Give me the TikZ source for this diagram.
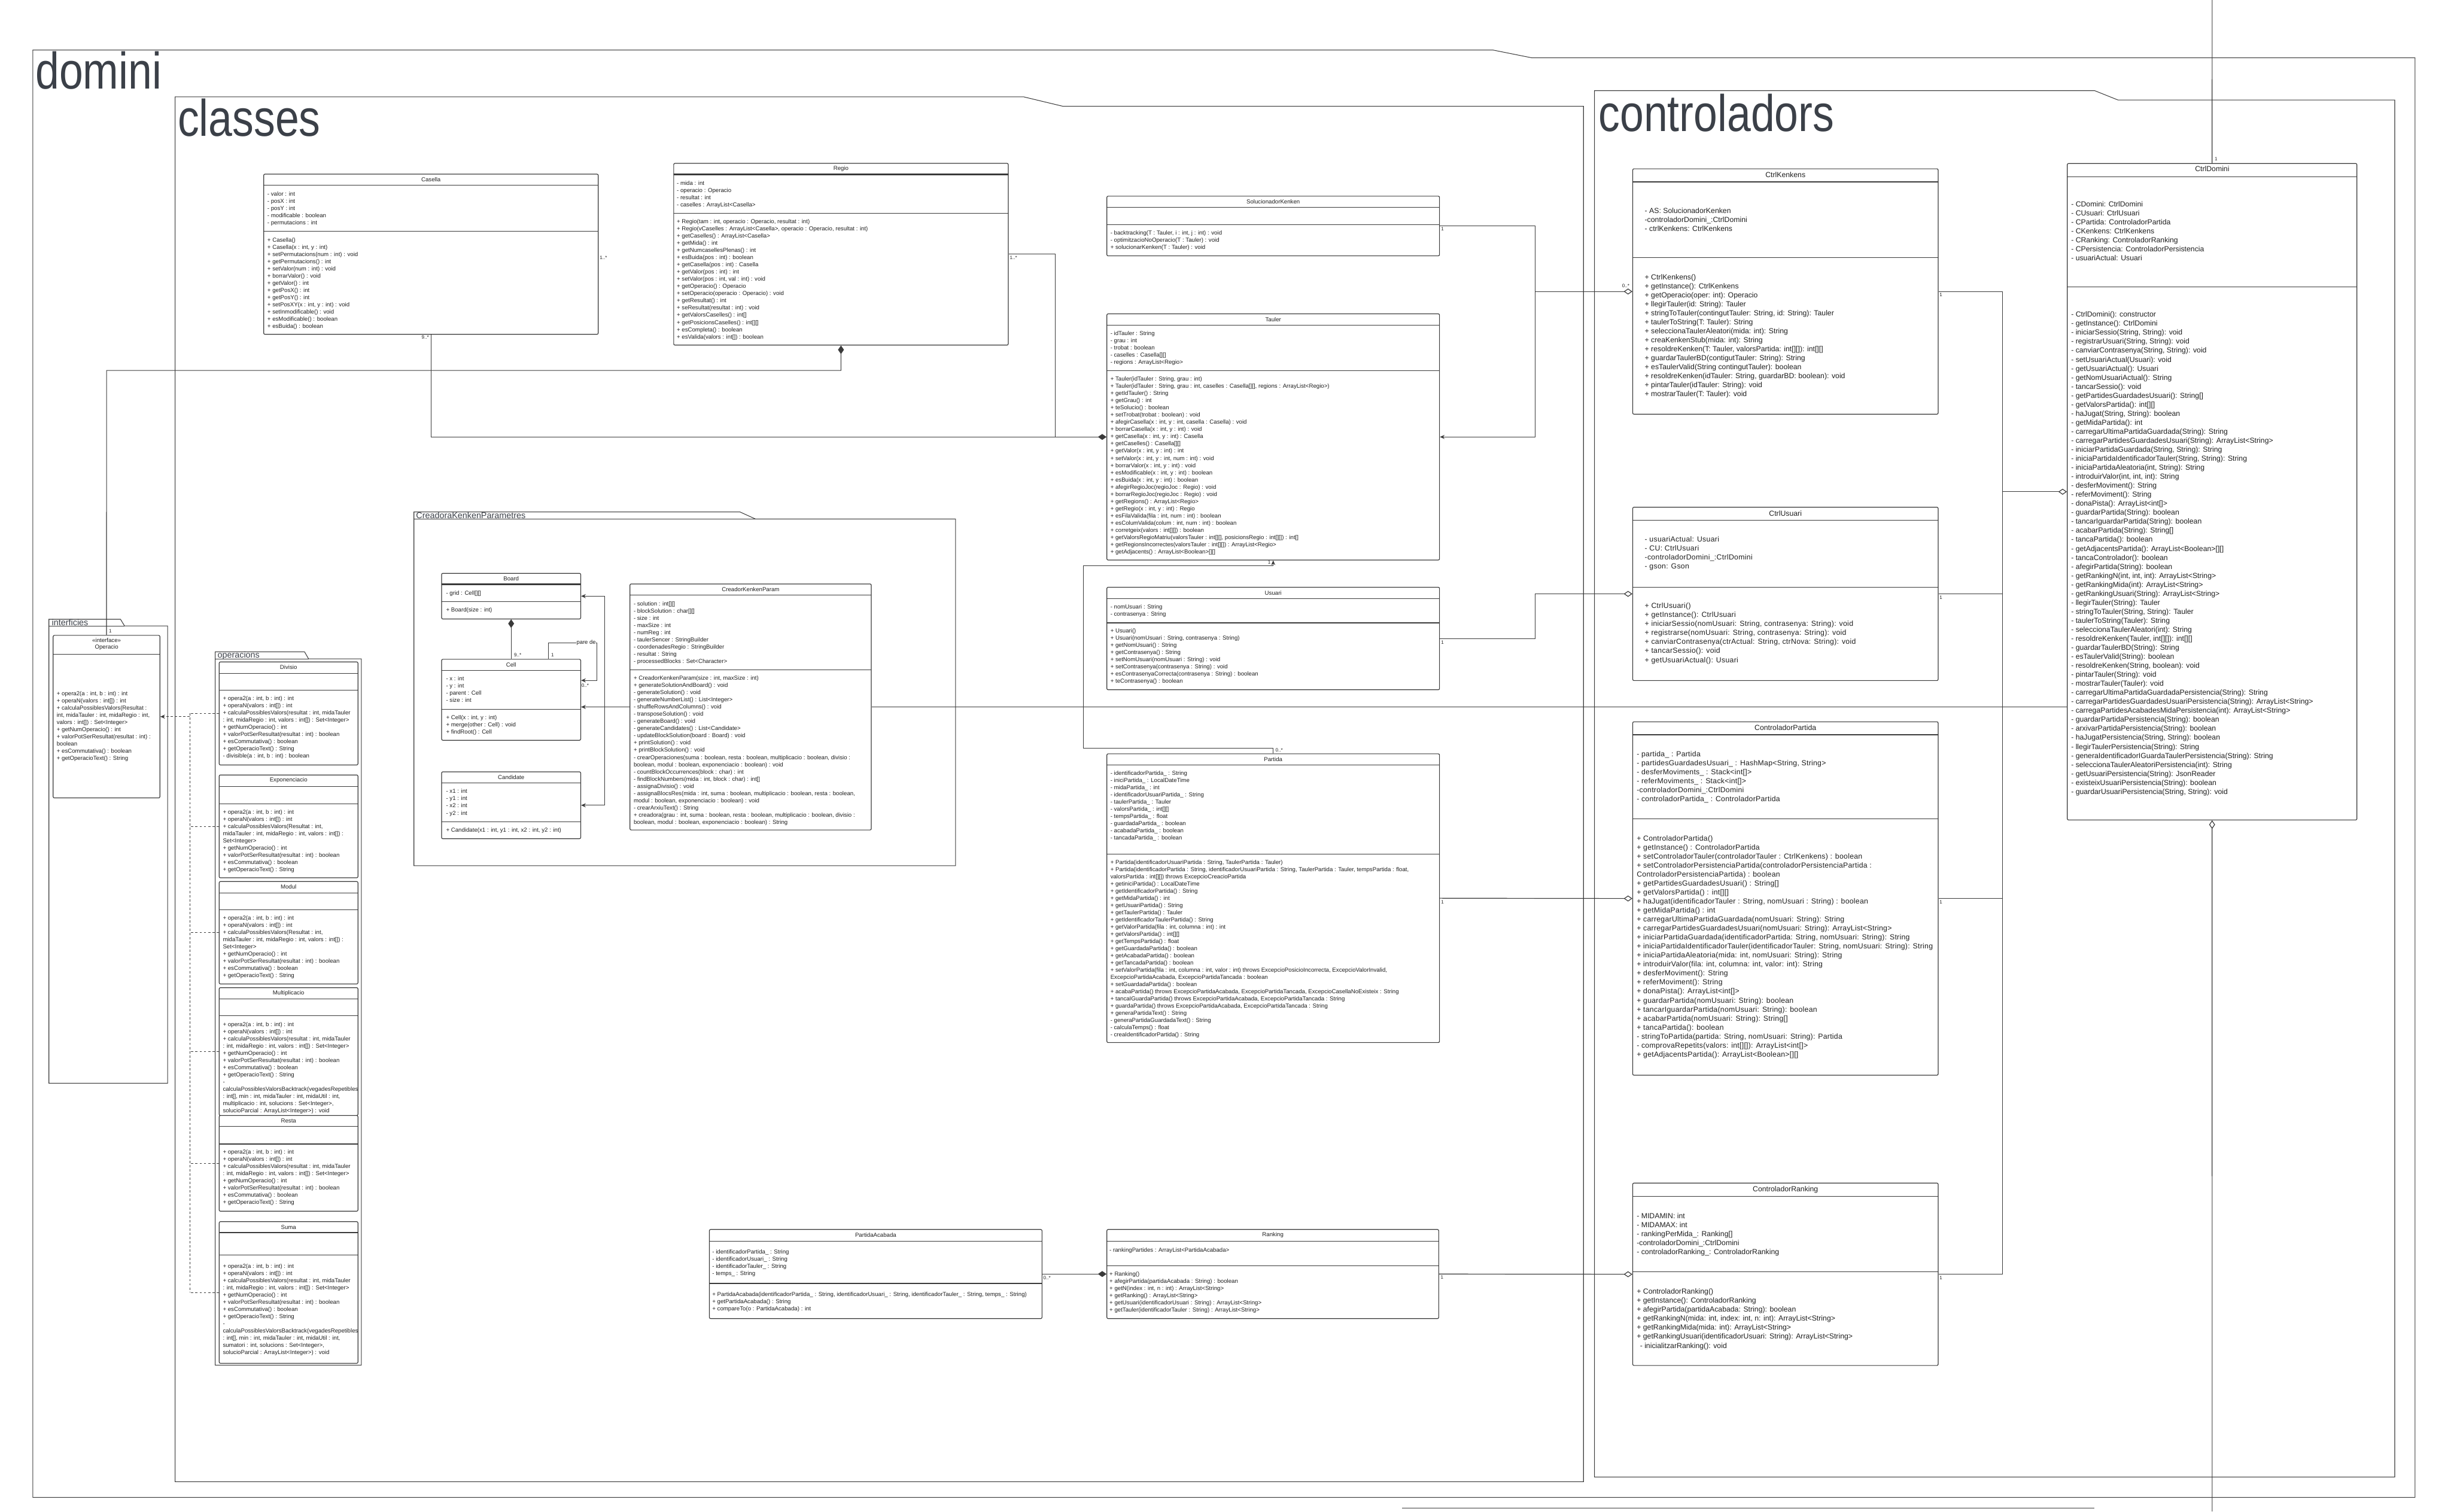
\documentclass[tikz,border=0pt]{standalone}
\usepackage{fontspec}
\setmainfont{Liberation Sans}
\newfontfamily\pkgfont[FakeStretch=0.83]{Liberation Sans}
\usetikzlibrary{arrows.meta,fit}

\definecolor{linegray}{HTML}{3A3A3A}
\definecolor{inkgray}{HTML}{1F1F1F}
\definecolor{pkggray}{HTML}{3B4048}

\tikzset{
  classbox/.style={draw=linegray, line width=0.45pt, rounded corners=0.8pt, inner sep=0pt},
  septop/.style={draw=linegray, line width=0.45pt},
  dom/.style={font=\fontsize{3.7}{4.6}\selectfont, text=inkgray, inner sep=0pt, align=left, anchor=north west},
  ctl/.style={font=\fontsize{4.7}{5.76}\selectfont, text=inkgray, inner sep=0pt, align=left, anchor=north west},
  ctlwide/.style={ctl, font=\fontsize{4.7}{5.76}\selectfont\addfontfeature{LetterSpace=#1}},
  domtitle/.style={font=\fontsize{3.7}{4.6}\selectfont, text=inkgray, inner sep=0pt},
  ctltitle/.style={font=\fontsize{4.7}{5.76}\selectfont, text=inkgray, inner sep=0pt},
  conn/.style={draw=linegray, line width=0.45pt},
  compos/.style={conn, {Diamond[length=5.5pt,width=3.8pt]}-},
  aggr/.style={conn, {Diamond[length=5.5pt,width=3.8pt,fill=white]}-},
  navig/.style={conn, -{Stealth[length=3pt,width=2.6pt]}},
  realdash/.style={conn, dash pattern=on 1.5pt off 1.2pt},
  mult/.style={font=\fontsize{3.1}{3.6}\selectfont, text=inkgray, inner sep=0.2pt},
  pkgline/.style={draw=linegray, line width=0.4pt},
  bigpkg/.style={font=\pkgfont\fontsize{33}{36}\selectfont, text=pkggray, inner sep=0pt, anchor=base west},
  smallpkg/.style={font=\fontsize{5.5}{6}\selectfont, text=pkggray, inner sep=0pt, anchor=base west},
}

% box with title and two separators: name, x1, y1, x2, title sep, member sep, y2
\newcommand\classbox[7]{%
  \node[classbox, fit={(#2,#3) (#4,#7)}] (#1) {};
  \draw[septop] (#2,#5) -- (#4,#5);
  \draw[septop] (#2,#6) -- (#4,#6);
}

\begin{document}
\begin{tikzpicture}[x=1pt,y=-1pt]
\useasboundingbox (0,0) rectangle (1568,967);

% packages
\draw[pkgline] (21,37) -- (21,32) -- (955,32) -- (980,37) -- (1545,37) -- (1545,958) -- (21,958) -- cycle;
\node[bigpkg] (lbl-domini) at (22.5,57) {domini};
\draw[pkgline] (112,68) -- (112,62) -- (655,62) -- (680,68) -- (1013,68) -- (1013,948) -- (112,948) -- cycle;
\node[bigpkg] (lbl-classes) at (113.5,87) {classes};
\draw[pkgline] (1020,64) -- (1020,58) -- (1340,58) -- (1355,64) -- (1532,64) -- (1532,945) -- (1020,945) -- cycle;
\node[bigpkg] (lbl-ctrl) at (1022.5,84) {controladors};
\draw[pkgline] (264.8,332) -- (264.8,327.5) -- (473.3,327.5) -- (483.2,332) -- (611.3,332) -- (611.3,553.9) -- (264.8,553.9) -- cycle;
\draw[pkgline] (264.8,332) -- (483.2,332);
\node[smallpkg] (lbl-creadora) at (266,331.6) {CreadoraKenkenParametres};
\draw[pkgline] (31.3,400.5) -- (31.3,396.2) -- (77.1,396.2) -- (79.7,400.5) -- (107.2,400.5) -- (107.2,693) -- (31.3,693) -- cycle;
\draw[pkgline] (31.3,400.5) -- (79.7,400.5);
\node[smallpkg] (lbl-interf) at (33,400.1) {interficies};
\draw[pkgline] (137.7,421.5) -- (137.7,417) -- (194.8,417) -- (197.4,421.5) -- (231.2,421.5) -- (231.2,873.4) -- (137.7,873.4) -- cycle;
\draw[pkgline] (137.7,421.5) -- (197.4,421.5);
\node[smallpkg] (lbl-operac) at (139,421) {operacions};
\draw[pkgline] (897,965) -- (1340,965);

% classes
\classbox{casella}{168.7}{111.4}{382.7}{118.5}{147.8}{213.9}
\node[domtitle] (casella-t) at (275.7,114.9) {Casella};
\node[dom] (casella-a) at (170.9,122.3) {- valor : int\\- posX : int\\- posY : int\\- modificable : boolean\\- permutacions : int};
\node[dom] (casella-m) at (170.9,151.8) {+ Casella()\\+ Casella(x : int, y : int)\\+ setPermutacions(num : int) : void\\+ getPermutacions() : int\\+ setValor(num : int) : void\\+ borrarValor() : void\\+ getValor() : int\\+ getPosX() : int\\+ getPosY() : int\\+ setPosXY(x : int, y : int) : void\\+ setInmodificable() : void\\+ esModificable() : boolean\\+ esBuida() : boolean};

\classbox{regio}{431}{104.5}{645}{111.7}{136.5}{220.8}
\draw[septop, line width=1.1pt] (431,111.7) -- (645,111.7);
\node[domtitle] (regio-t) at (538,108.1) {Regio};
\node[dom] (regio-a) at (432.8,115.6) {- mida : int\\- operacio : Operacio\\- resultat : int\\- caselles : ArrayList<Casella>};
\node[dom] (regio-m) at (432.8,140.2) {+ Regio(tam : int, operacio : Operacio, resultat : int)\\+ Regio(vCaselles : ArrayList<Casella>, operacio : Operacio, resultat : int)\\+ getCaselles() : ArrayList<Casella>\\+ getMida() : int\\+ getNumcasellesPlenas() : int\\+ esBuida(pos : int) : boolean\\+ getCasella(pos : int) : Casella\\+ getValor(pos : int) : int\\+ setValor(pos : int, val : int) : void\\+ getOperacio() : Operacio\\+ setOperacio(operacio : Operacio) : void\\+ getResultat() : int\\+ seResultat(resultat : int) : void\\+ getValorsCaselles() : int[]\\+ getPosicionsCaselles() : int[][]\\+ esCompleta() : boolean\\+ esValida(valors : int[]) : boolean};

\classbox{soluc}{708.1}{125.5}{920.9}{132.6}{143.8}{163.7}
\node[domtitle] (soluc-t) at (814.5,129) {SolucionadorKenken};
\node[dom] (soluc-m) at (710.2,147.5) {- backtracking(T : Tauler, i : int, j : int) : void\\- optimitzacioNoOperacio(T : Tauler) : void\\+ solucionarKenken(T : Tauler) : void};

\classbox{tauler}{708.1}{200.8}{920.9}{207.9}{237.3}{358.3}
\node[domtitle] (tauler-t) at (814.5,204.3) {Tauler};
\node[dom] (tauler-a) at (710.2,211.5) {- idTauler : String\\- grau : int\\- trobat : boolean\\- caselles : Casella[][]\\- regions : ArrayList<Regio>};
\node[dom] (tauler-m) at (710.2,240.9) {+ Tauler(idTauler : String, grau : int)\\+ Tauler(idTauler : String, grau : int, caselles : Casella[][], regions : ArrayList<Regio>)\\+ getIdTauler() : String\\+ getGrau() : int\\+ teSolucio() : boolean\\+ setTrobat(trobat : boolean) : void\\+ afegirCasella(x : int, y : int, casella : Casella) : void\\+ borrarCasella(x : int, y : int) : void\\+ getCasella(x : int, y : int) : Casella\\+ getCaselles() : Casella[][]\\+ getValor(x : int, y : int) : int\\+ setValor(x : int, y : int, num : int) : void\\+ borrarValor(x : int, y : int) : void\\+ esModificable(x : int, y : int) : boolean\\+ esBuida(x : int, y : int) : boolean\\+ afegirRegioJoc(regioJoc : Regio) : void\\+ borrarRegioJoc(regioJoc : Regio) : void\\+ getRegions() : ArrayList<Regio>\\+ getRegio(x : int, y : int) : Regio\\+ esFilaValida(fila : int, num : int) : boolean\\+ esColumValida(colum : int, num : int) : boolean\\+ corretgeix(valors : int[][]) : boolean\\+ getValorsRegioMatriu(valorsTauler : int[][], posicionsRegio : int[][]) : int[]\\+ getRegionsIncorrectes(valorsTauler : int[][]) : ArrayList<Regio>\\+ getAdjacents() : ArrayList<Boolean>[][]};

\classbox{usuari}{708.1}{375.7}{920.9}{383.1}{398.5}{441.3}
\node[domtitle] (usuari-t) at (814.5,379.4) {Usuari};
\node[dom] (usuari-a) at (710.2,386.6) {- nomUsuari : String\\- contrasenya : String};
\node[dom] (usuari-m) at (710.2,402) {+ Usuari()\\+ Usuari(nomUsuari : String, contrasenya : String)\\+ getNomUsuari() : String\\+ getContrasenya() : String\\+ setNomUsuari(nomUsuari : String) : void\\+ setContrasenya(contrasenya : String) : void\\+ esContrasenyaCorrecta(contrasenya : String) : boolean\\+ teContrasenya() : boolean};

\classbox{partida}{708.1}{482.3}{920.9}{489.4}{546.4}{667}
\node[domtitle] (partida-t) at (814.5,485.8) {Partida};
\node[dom] (partida-a) at (710.2,493.1) {- identificadorPartida\_ : String\\- iniciPartida\_ : LocalDateTime\\- midaPartida\_ : int\\- identificadorUsuariPartida\_ : String\\- taulerPartida\_ : Tauler\\- valorsPartida\_ : int[][]\\- tempsPartida\_ : float\\- guardadaPartida\_ : boolean\\- acabadaPartida\_ : boolean\\- tancadaPartida\_ : boolean};
\node[dom] (partida-m) at (710.2,549.9) {+ Partida(identificadorUsuariPartida : String, TaulerPartida : Tauler)\\+ Partida(identificadorPartida : String, identificadorUsuariPartida : String, TaulerPartida : Tauler, tempsPartida : float,\\valorsPartida : int[][]) throws ExcepcioCreacioPartida\\+ getiniciPartida() : LocalDateTime\\+ getIdentificadorPartida() : String\\+ getMidaPartida() : int\\+ getUsuariPartida() : String\\+ getTaulerPartida() : Tauler\\+ getIdentificadorTaulerPartida() : String\\+ getValorPartida(fila : int, columna : int) : int\\+ getValorsPartida() : int[][]\\+ getTempsPartida() : float\\+ getGuardadaPartida() : boolean\\+ getAcabadaPartida() : boolean\\+ getTancadaPartida() : boolean\\+ setValorPartida(fila : int, columna : int, valor : int) throws ExcepcioPosicioIncorrecta, ExcepcioValorInvalid,\\ExcepcioPartidaAcabada, ExcepcioPartidaTancada : boolean\\+ setGuardadaPartida() : boolean\\+ acabaPartida() throws ExcepcioPartidaAcabada, ExcepcioPartidaTancada, ExcepcioCasellaNoExisteix : String\\+ tancaIGuardaPartida() throws ExcepcioPartidaAcabada, ExcepcioPartidaTancada : String\\+ guardaPartida() throws ExcepcioPartidaAcabada, ExcepcioPartidaTancada : String\\+ generaPartidaText() : String\\- generaPartidaGuardadaText() : String\\- calculaTemps() : float\\- creaIdentificadorPartida() : String};

\classbox{acabada}{453.8}{786.6}{666.6}{794.1}{821.1}{843.6}
\node[domtitle] (acabada-t) at (560.2,790.3) {PartidaAcabada};
\node[dom] (acabada-a) at (455.5,799.2) {- identificadorPartida\_ : String\\- identificadorUsuari\_ : String\\- identificadorTauler\_ : String\\- temps\_ : String};
\node[dom] (acabada-m) at (455.5,826.3) {+ PartidaAcabada(identificadorPartida\_ : String, identificadorUsuari\_ : String, identificadorTauler\_ : String, temps\_ : String)\\+ getPartidaAcabada() : String\\+ compareTo(o : PartidaAcabada) : int};

\classbox{ranking}{708.1}{786.6}{920.4}{794.1}{809.7}{843.6}
\node[domtitle] (ranking-t) at (814.3,790.3) {Ranking};
\node[dom] (ranking-a) at (709.6,798.1) {- rankingPartides : ArrayList<PartidaAcabada>};
\node[dom] (ranking-m) at (709.6,813.6) {+ Ranking()\\+ afegirPartida(partidaAcabada : String) : boolean\\+ getN(index : int, n : int) : ArrayList<String>\\+ getRanking() : ArrayList<String>\\+ getUsuari(identificadorUsuari : String) : ArrayList<String>\\+ getTauler(identificadorTauler : String) : ArrayList<String>};

% CreadoraKenkenParametres
\classbox{board}{282.5}{366.8}{371.5}{373.9}{384.9}{396}
\draw[septop, line width=1.1pt] (282.5,373.9) -- (371.5,373.9);
\node[domtitle] (board-t) at (327,370.3) {Board};
\node[dom] (board-a) at (285.2,377.7) {- grid : Cell[][]};
\node[dom] (board-m) at (285.2,388.7) {+ Board(size : int)};

\classbox{cell}{282.5}{421.8}{371.5}{429}{453.7}{473.6}
\node[domtitle] (cell-t) at (327,425.4) {Cell};
\node[dom] (cell-a) at (285.2,432.6) {- x : int\\- y : int\\- parent : Cell\\- size : int};
\node[dom] (cell-m) at (285.2,457.3) {+ Cell(x : int, y : int)\\+ merge(other : Cell) : void\\+ findRoot() : Cell};

\classbox{candidate}{282.5}{493.8}{371.5}{500.8}{525.9}{536.6}
\node[domtitle] (candidate-t) at (327,497.3) {Candidate};
\node[dom] (candidate-a) at (285.2,504.7) {- x1 : int\\- y1 : int\\- x2 : int\\- y2 : int};
\node[dom] (candidate-m) at (285.2,529.5) {+ Candidate(x1 : int, y1 : int, x2 : int, y2 : int)};

\classbox{ckp}{403}{373.6}{557.4}{380.8}{428.4}{531}
\node[domtitle] (ckp-t) at (480.2,377.2) {CreadorKenkenParam};
\node[dom] (ckp-a) at (405.2,384.6) {- solution : int[][]\\- blockSolution : char[][]\\- size : int\\- maxSize : int\\- numReg : int\\- taulerSencer : StringBuilder\\- coordenadesRegio : StringBuilder\\- resultat : String\\- processedBlocks : Set<Character>};
\node[dom] (ckp-m) at (405.2,432.3) {+ CreadorKenkenParam(size : int, maxSize : int)\\+ generateSolutionAndBoard() : void\\- generateSolution() : void\\- generateNumberList() : List<Integer>\\- shuffleRowsAndColumns() : void\\- transposeSolution() : void\\- generateBoard() : void\\- generateCandidates() : List<Candidate>\\- updateBlockSolution(board : Board) : void\\+ printSolution() : void\\+ printBlockSolution() : void\\- crearOperaciones(suma : boolean, resta : boolean, multiplicacio : boolean, divisio :\\boolean, modul : boolean, exponenciacio : boolean) : void\\- countBlockOccurrences(block : char) : int\\- findBlockNumbers(mida : int, block : char) : int[]\\- assignaDivisio() : void\\- assignaBlocsRes(mida : int, suma : boolean, multiplicacio : boolean, resta : boolean,\\modul : boolean, exponenciacio : boolean) : void\\- crearArxiuText() : String\\+ creadora(grau : int, suma : boolean, resta : boolean, multiplicacio : boolean, divisio :\\boolean, modul : boolean, exponenciacio : boolean) : String};

% interficies
\node[classbox, fit={(34,406.5) (102.3,510.5)}] (operacio) {};
\draw[septop] (34,418.6) -- (102.3,418.6);
\node[domtitle, align=center, font=\fontsize{3.7}{4.5}\selectfont] (operacio-t) at (68.2,412.1) {<<interface>>\\Operacio};
\node[dom] (operacio-m) at (36.1,442.1) {+ opera2(a : int, b : int) : int\\+ operaN(valors : int[]) : int\\+ calculaPossiblesValors(Resultat :\\int, midaTauler : int, midaRegio : int,\\valors : int[]) : Set<Integer>\\+ getNumOperacio() : int\\+ valorPotSerResultat(resultat : int) :\\boolean\\+ esCommutativa() : boolean\\+ getOperacioText() : String};

% operacions
\classbox{divisio}{140.2}{423.5}{229}{430.8}{441.6}{489.4}
\node[domtitle] (divisio-t) at (184.6,426.9) {Divisio};
\node[dom] (divisio-m) at (142.4,445.3) {+ opera2(a : int, b : int) : int\\+ operaN(valors : int[]) : int\\+ calculaPossiblesValors(resultat : int, midaTauler\\: int, midaRegio : int, valors : int[]) : Set<Integer>\\+ getNumOperacio() : int\\+ valorPotSerResultat(resultat : int) : boolean\\+ esCommutativa() : boolean\\+ getOperacioText() : String\\- divisible(a : int, b : int) : boolean};

\classbox{expon}{140.2}{495.8}{229}{503.3}{514.4}{561.6}
\node[domtitle] (expon-t) at (184.6,499.3) {Exponenciacio};
\node[dom] (expon-m) at (142.4,517.8) {+ opera2(a : int, b : int) : int\\+ operaN(valors : int[]) : int\\+ calculaPossiblesValors(Resultat : int,\\midaTauler : int, midaRegio : int, valors : int[]) :\\Set<Integer>\\+ getNumOperacio() : int\\+ valorPotSerResultat(resultat : int) : boolean\\+ esCommutativa() : boolean\\+ getOperacioText() : String};

\classbox{modul}{140.2}{564}{229}{571.2}{582}{629.5}
\node[domtitle] (modul-t) at (184.6,567.5) {Modul};
\node[dom] (modul-m) at (142.4,585.8) {+ opera2(a : int, b : int) : int\\+ operaN(valors : int[]) : int\\+ calculaPossiblesValors(Resultat : int,\\midaTauler : int, midaRegio : int, valors : int[]) :\\Set<Integer>\\+ getNumOperacio() : int\\+ valorPotSerResultat(resultat : int) : boolean\\+ esCommutativa() : boolean\\+ getOperacioText() : String};

\classbox{multi}{140.2}{631.9}{229}{639.2}{649.8}{713.7}
\node[domtitle] (multi-t) at (184.6,635.4) {Multiplicacio};
\node[dom] (multi-m) at (142.4,653.8) {+ opera2(a : int, b : int) : int\\+ operaN(valors : int[]) : int\\+ calculaPossiblesValors(resultat : int, midaTauler\\: int, midaRegio : int, valors : int[]) : Set<Integer>\\+ getNumOperacio() : int\\+ valorPotSerResultat(resultat : int) : boolean\\+ esCommutativa() : boolean\\+ getOperacioText() : String\\-\\calculaPossiblesValorsBacktrack(vegadesRepetibles\\: int[], min : int, midaTauler : int, midaUtil : int,\\multiplicacio : int, solucions : Set<Integer>,\\solucioParcial : ArrayList<Integer>) : void};

\classbox{resta}{140.2}{713.7}{229}{720.7}{731.9}{774.9}
\node[domtitle] (resta-t) at (184.6,717.2) {Resta};
\node[dom] (resta-m) at (142.4,735.5) {+ opera2(a : int, b : int) : int\\+ operaN(valors : int[]) : int\\+ calculaPossiblesValors(resultat : int, midaTauler\\: int, midaRegio : int, valors : int[]) : Set<Integer>\\+ getNumOperacio() : int\\+ valorPotSerResultat(resultat : int) : boolean\\+ esCommutativa() : boolean\\+ getOperacioText() : String};

\classbox{suma}{140.2}{781.6}{229}{788.6}{803}{872.2}
\node[domtitle] (suma-t) at (184.6,785.1) {Suma};
\node[dom] (suma-m) at (142.4,808.4) {+ opera2(a : int, b : int) : int\\+ operaN(valors : int[]) : int\\+ calculaPossiblesValors(resultat : int, midaTauler\\: int, midaRegio : int, valors : int[]) : Set<Integer>\\+ getNumOperacio() : int\\+ valorPotSerResultat(resultat : int) : boolean\\+ esCommutativa() : boolean\\+ getOperacioText() : String\\-\\calculaPossiblesValorsBacktrack(vegadesRepetibles\\: int[], min : int, midaTauler : int, midaUtil : int,\\sumatori : int, solucions : Set<Integer>,\\solucioParcial : ArrayList<Integer>) : void};

% controladors
\classbox{ctrlkenkens}{1044.5}{108}{1239.9}{116.4}{164.8}{265}
\node[ctltitle] (ctrlkenkens-t) at (1142.2,111.9) {CtrlKenkens};
\node[ctl] (ctrlkenkens-a) at (1052,132.8) {- AS: SolucionadorKenken\\-controladorDomini\_:CtrlDomini\\- ctrlKenkens: CtrlKenkens};
\node[ctl] (ctrlkenkens-m) at (1052,175.2) {+ CtrlKenkens()\\+ getInstance(): CtrlKenkens\\+ getOperacio(oper: int): Operacio\\+ llegirTauler(id: String): Tauler\\+ stringToTauler(contingutTauler: String, id: String): Tauler\\+ taulerToString(T: Tauler): String\\+ seleccionaTaulerAleatori(mida: int): String\\+ creaKenkenStub(mida: int): String\\+ resoldreKenken(T: Tauler, valorsPartida: int[][]): int[][]\\+ guardarTaulerBD(contigutTauler: String): String\\+ esTaulerValid(String contingutTauler): boolean\\+ resoldreKenken(idTauler: String, guardarBD: boolean): void\\+ pintarTauler(idTauler: String): void\\+ mostrarTauler(T: Tauler): void};

\classbox{ctrlusuari}{1044.5}{324.5}{1239.9}{332.8}{375.6}{435.4}
\node[ctltitle] (ctrlusuari-t) at (1142.2,328.4) {CtrlUsuari};
\node[ctlwide=2.5] (ctrlusuari-a) at (1052,343) {- usuariActual: Usuari\\- CU: CtrlUsuari\\-controladorDomini\_:CtrlDomini\\- gson: Gson};
\node[ctlwide=2.5] (ctrlusuari-m) at (1052,385.6) {+ CtrlUsuari()\\+ getInstance(): CtrlUsuari\\+ iniciarSessio(nomUsuari: String, contrasenya: String): void\\+ registrarse(nomUsuari: String, contrasenya: String): void\\+ canviarContrasenya(ctrActual: String, ctrNova: String): void\\+ tancarSessio(): void\\+ getUsuariActual(): Usuari};

\classbox{ctrlpartida}{1044.5}{461.8}{1239.9}{470.1}{524}{687.9}
\node[ctltitle] (ctrlpartida-t) at (1142.2,465.7) {ControladorPartida};
\node[ctlwide=2.2] (ctrlpartida-a) at (1046.9,480.4) {- partida\_ : Partida\\- partidesGuardadesUsuari\_ : HashMap<String, String>\\- desferMoviments\_ : Stack<int[]>\\- referMoviments\_ : Stack<int[]>\\-controladorDomini\_:CtrlDomini\\- controladorPartida\_ : ControladorPartida};
\node[ctlwide=2.2] (ctrlpartida-m) at (1046.9,534.3) {+ ControladorPartida()\\+ getInstance() : ControladorPartida\\+ setControladorTauler(controladorTauler : CtrlKenkens) : boolean\\+ setControladorPersistenciaPartida(controladorPersistenciaPartida :\\ControladorPersistenciaPartida) : boolean\\+ getPartidesGuardadesUsuari() : String[]\\+ getValorsPartida() : int[][]\\+ haJugat(identificadorTauler : String, nomUsuari : String) : boolean\\+ getMidaPartida() : int\\+ carregarUltimaPartidaGuardada(nomUsuari: String): String\\+ carregarPartidesGuardadesUsuari(nomUsuari: String): ArrayList<String>\\+ iniciarPartidaGuardada(identificadorPartida: String, nomUsuari: String): String\\+ iniciaPartidaIdentificadorTauler(identificadorTauler: String, nomUsuari: String): String\\+ iniciaPartidaAleatoria(mida: int, nomUsuari: String): String\\+ introduirValor(fila: int, columna: int, valor: int): String\\+ desferMoviment(): String\\+ referMoviment(): String\\+ donaPista(): ArrayList<int[]>\\+ guardarPartida(nomUsuari: String): boolean\\+ tancarIguardarPartida(nomUsuari: String): boolean\\+ acabarPartida(nomUsuari: String): String[]\\+ tancaPartida(): boolean\\- stringToPartida(partida: String, nomUsuari: String): Partida\\- comprovaRepetits(valors: int[][]): ArrayList<int[]>\\+ getAdjacentsPartida(): ArrayList<Boolean>[][]};

\classbox{ctrlranking}{1044.5}{756.9}{1239.9}{765.4}{813.8}{873.6}
\node[ctltitle] (ctrlranking-t) at (1142.2,761.1) {ControladorRanking};
\node[ctl] (ctrlranking-a) at (1046.9,775.9) {- MIDAMIN: int\\- MIDAMAX: int\\- rankingPerMida\_: Ranking[]\\-controladorDomini\_:CtrlDomini\\- controladorRanking\_: ControladorRanking};
\node[ctl] (ctrlranking-m) at (1046.9,824.3) {+ ControladorRanking()\\+ getInstance(): ControladorRanking\\+ afegirPartida(partidaAcabada: String): boolean\\+ getRankingN(mida: int, index: int, n: int): ArrayList<String>\\+ getRankingMida(mida: int): ArrayList<String>\\+ getRankingUsuari(identificadorUsuari: String): ArrayList<String>\\\ \,- inicialitzarRanking(): void};

\classbox{ctrldomini}{1322.5}{104.6}{1507.8}{113.1}{183.7}{524.6}
\node[ctltitle] (ctrldomini-t) at (1415.2,108.1) {CtrlDomini};
\node[ctl] (ctrldomini-a) at (1324.8,128.6) {- CDomini: CtrlDomini\\- CUsuari: CtrlUsuari\\- CPartida: ControladorPartida\\- CKenkens: CtrlKenkens\\- CRanking: ControladorRanking\\- CPersistencia: ControladorPersistencia\\- usuariActual: Usuari};
\node[ctl] (ctrldomini-m) at (1324.8,199.2) {- CtrlDomini(): constructor\\- getInstance(): CtrlDomini\\- iniciarSessio(String, String): void\\- registrarUsuari(String, String): void\\- canviarContrasenya(String, String): void\\- setUsuariActual(Usuari): void\\- getUsuariActual(): Usuari\\- getNomUsuariActual(): String\\- tancarSessio(): void\\- getPartidesGuardadesUsuari(): String[]\\- getValorsPartida(): int[][]\\- haJugat(String, String): boolean\\- getMidaPartida(): int\\- carregarUltimaPartidaGuardada(String): String\\- carregarPartidesGuardadesUsuari(String): ArrayList<String>\\- iniciarPartidaGuardada(String, String): String\\- iniciaPartidaIdentificadorTauler(String, String): String\\- iniciaPartidaAleatoria(int, String): String\\- introduirValor(int, int, int): String\\- desferMoviment(): String\\- referMoviment(): String\\- donaPista(): ArrayList<int[]>\\- guardarPartida(String): boolean\\- tancarIguardarPartida(String): boolean\\- acabarPartida(String): String[]\\- tancaPartida(): boolean\\- getAdjacentsPartida(): ArrayList<Boolean>[][]\\- tancaControlador(): boolean\\- afegirPartida(String): boolean\\- getRankingN(int, int, int): ArrayList<String>\\- getRankingMida(int): ArrayList<String>\\- getRankingUsuari(String): ArrayList<String>\\- llegirTauler(String): Tauler\\- stringToTauler(String, String): Tauler\\- taulerToString(Tauler): String\\- seleccionaTaulerAleatori(int): String\\- resoldreKenken(Tauler, int[][]): int[][]\\- guardarTaulerBD(String): String\\- esTaulerValid(String): boolean\\- resoldreKenken(String, boolean): void\\- pintarTauler(String): void\\- mostrarTauler(Tauler): void\\- carregarUltimaPartidaGuardadaPersistencia(String): String\\- carregarPartidesGuardadesUsuariPersistencia(String): ArrayList<String>\\- carregaPartidesAcabadesMidaPersistencia(int): ArrayList<String>\\- guardarPartidaPersistencia(String): boolean\\- arxivarPartidaPersistencia(String): boolean\\- haJugatPersistencia(String, String): boolean\\- llegirTaulerPersistencia(String): String\\- generaIdentificadorIGuardaTaulerPersistencia(String): String\\- seleccionaTaulerAleatoriPersistencia(int): String\\- getUsuariPersistencia(String): JsonReader\\- existeixUsuariPersistencia(String): boolean\\- guardarUsuariPersistencia(String, String): void};

% connectors inside classes
\coordinate (jt) at (675,279.55);
\draw[compos] (tauler.west) -- (jt) |- (regio.east);
\draw[conn] (jt) -| (casella.south);
\coordinate (opbend) at (68.2,237);
\draw[compos] (regio.south) |- (opbend) -- (operacio.north);
\coordinate (tp1) at (693,362);
\coordinate (tp2) at (693,478.7);
\draw[navig] (partida.north) |- (tp2) -- (tp1) -| (tauler.south);
\draw[compos] (ranking.west) -- (acabada.east);

% creadora
\draw[compos] (board.south) -- (cell.north);
\coordinate (lp1) at (350.8,411.3);
\coordinate (lp2) at (381.9,411.3);
\coordinate (lp3) at (381.9,435.3);
\draw[navig] (cell.north -| lp1) -- (lp1) -- (lp2) -- (lp3) -- (cell.east |- lp3);
\node[mult, fill=white, font=\fontsize{3.6}{4}\selectfont] (pare) at (375,411.3) {pare de};
\coordinate (cb) at (386.8,452.3);
\draw[conn] (ckp.west) -- (cb);
\draw[navig] (cb) |- (board.east);
\draw[navig] (cb) |- (candidate.east);
\draw[navig] (cb) -- (cell.east |- cb);
\draw[conn] (ckp.east) -- (ckp.east -| ctrldomini.west);

% realitzacions
\coordinate (rtop) at (121.4,456.45);
\coordinate (rbot) at (121.4,826.9);
\draw[realdash] (rtop) -- (rbot);
\draw[realdash] (divisio.west) -- (divisio.west -| rtop);
\draw[realdash] (expon.west) -- (expon.west -| rtop);
\draw[realdash] (modul.west) -- (modul.west -| rtop);
\draw[realdash] (multi.west) -- (multi.west -| rtop);
\draw[realdash] (resta.west) -- (resta.west -| rtop);
\draw[realdash] (suma.west) -- (suma.west -| rtop);
\draw[realdash, -{Stealth[length=3pt,width=2.6pt]}] (rtop |- operacio.east) -- (operacio.east);

% connectors to controladors
\coordinate (kb) at (982,186.5);
\draw[aggr] (ctrlkenkens.west) -- (kb) |- (soluc.east);
\draw[navig] (kb) |- (tauler.east);
\coordinate (ub) at (982,379.95);
\draw[aggr] (ctrlusuari.west) -- (ub) |- (usuari.east);
\draw[aggr] (ctrlpartida.west) -- (partida.east);
\draw[aggr] (ctrlranking.west) -- (ranking.east);
\coordinate (db) at (1281,314.6);
\draw[aggr] (ctrldomini.west) -- (db);
\draw[conn] (ctrlkenkens.east) -| (db);
\draw[conn] (ctrlusuari.east) -| (db);
\draw[conn] (ctrlpartida.east) -| (db);
\draw[conn] (ctrlranking.east) -| (db);
\coordinate (dtop) at (1415.2,0);
\coordinate (dbot) at (1415.2,967);
\draw[conn] (ctrldomini.north) -- (dtop);
\draw[aggr] (ctrldomini.south) -- (dbot);

% multiplicitats
\node[mult, anchor=north west] (m-cas1) at (383.3,163.6) {1..*};
\node[mult, anchor=north east] (m-cas2) at (274.8,214.2) {9..*};
\node[mult, anchor=north west] (m-reg1) at (645.6,163.6) {1..*};
\node[mult, anchor=north west] (m-sol) at (921.5,145) {1};
\node[mult, anchor=east] (m-tau) at (813.2,359.9) {1};
\node[mult, anchor=north west] (m-usu) at (921.5,409.4) {1};
\node[mult, anchor=west] (m-par1) at (815.6,480) {0..*};
\node[mult, anchor=north west] (m-par2) at (921.5,575.6) {1};
\node[mult, anchor=north west] (m-aca) at (667.1,815.9) {0..*};
\node[mult, anchor=north west] (m-ran) at (921.3,815.9) {1};
\node[mult, anchor=west] (m-cell1) at (328.5,419.1) {9..*};
\node[mult, anchor=west] (m-cell2) at (352.2,419.1) {1};
\node[mult, anchor=west] (m-cell3) at (371.6,438.4) {0..*};
\node[mult, anchor=west] (m-op) at (69.3,403.8) {1};
\node[mult, anchor=south east] (m-ck1) at (1042.8,184.2) {0..*};
\node[mult, anchor=north west] (m-ck2) at (1240.4,187.3) {1};
\node[mult, anchor=north west] (m-cu) at (1240.4,380.7) {1};
\node[mult, anchor=north west] (m-cp) at (1240.4,575.6) {1};
\node[mult, anchor=north west] (m-cr) at (1240.4,816) {1};
\node[mult, anchor=west] (m-cd) at (1416.4,101.8) {1};
\end{tikzpicture}
\end{document}
